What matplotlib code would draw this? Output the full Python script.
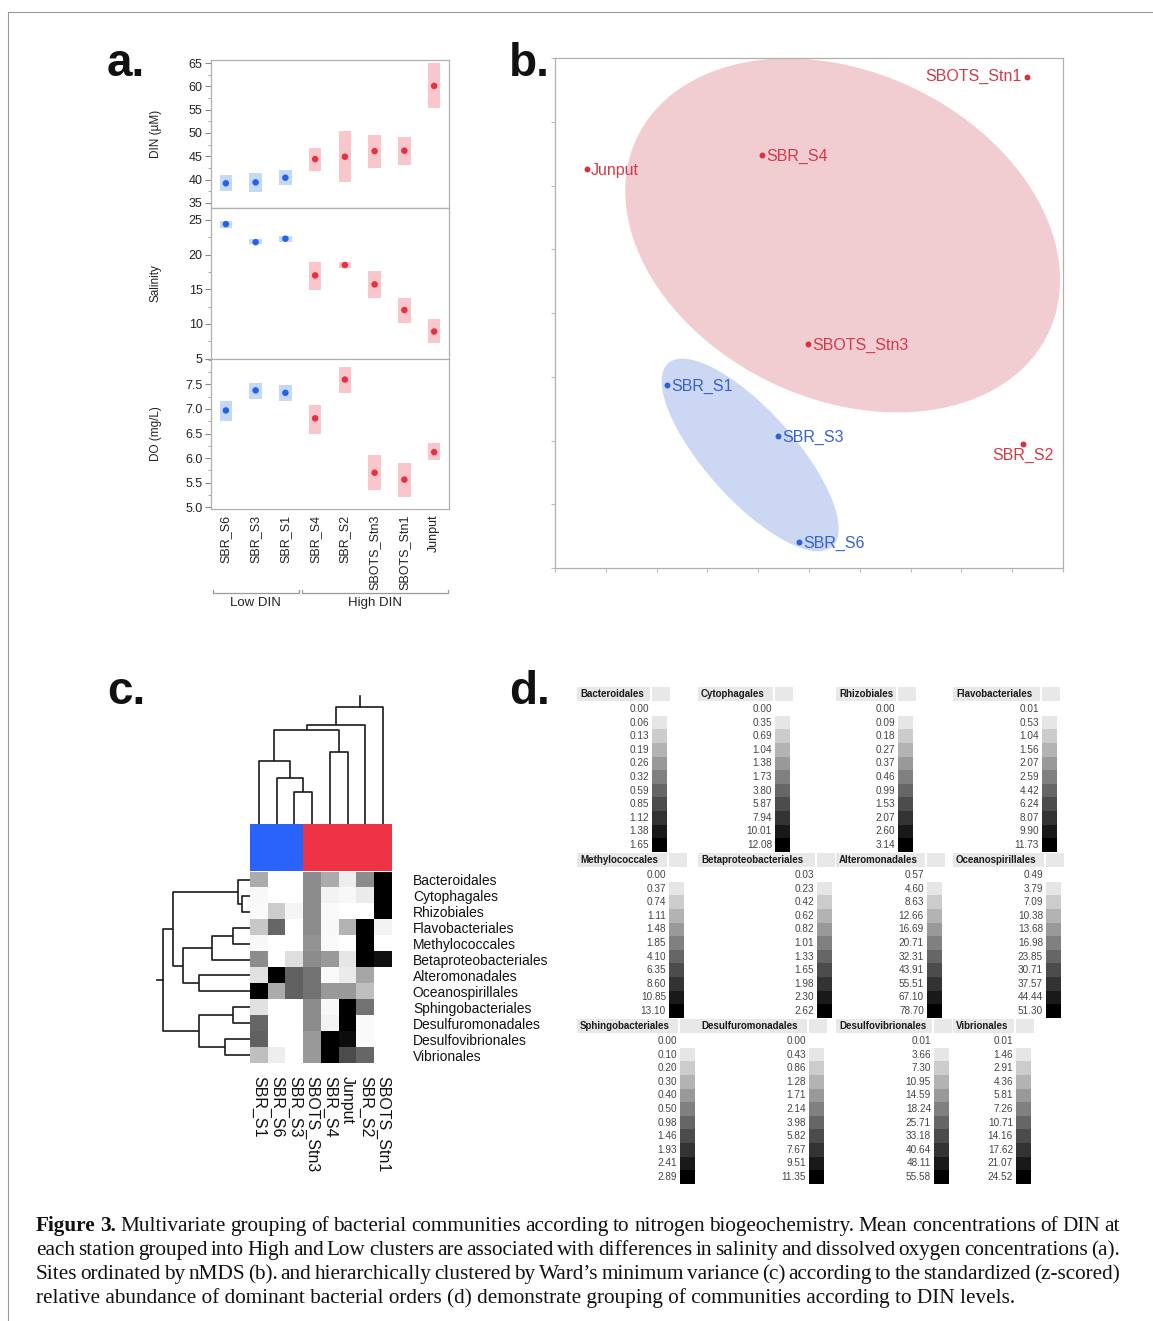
import numpy as np
import matplotlib
matplotlib.use('Agg')
import matplotlib.pyplot as plt
from matplotlib.patches import Rectangle, Ellipse
from matplotlib.colors import ListedColormap, LinearSegmentedColormap
from matplotlib.ticker import MultipleLocator, AutoMinorLocator, NullFormatter, FormatStrFormatter

plt.rcParams['font.family'] = ['Liberation Sans', 'DejaVu Sans']

W, H = 1153, 1321

# ---------------- panel a data ----------------
stations_a = ['SBR_S6', 'SBR_S3', 'SBR_S1', 'SBR_S4', 'SBR_S2', 'SBOTS_Stn3', 'SBOTS_Stn1', 'Junput']
group_a = ['Low', 'Low', 'Low', 'High', 'High', 'High', 'High', 'High']
din_mean = [39.2, 39.4, 40.4, 44.4, 44.9, 46.1, 46.2, 60.1]
din_lo = [37.6, 37.4, 38.8, 41.9, 39.4, 42.5, 43.2, 55.3]
din_hi = [40.9, 41.4, 42.1, 46.8, 50.4, 49.6, 49.1, 64.9]
sal_mean = [24.4, 21.8, 22.3, 17.0, 18.5, 15.7, 12.0, 8.9]
sal_lo = [23.9, 21.5, 21.8, 14.9, 18.0, 13.8, 10.1, 7.2]
sal_hi = [24.9, 22.2, 22.7, 19.0, 19.0, 17.65, 13.7, 10.7]
do_mean = [6.97, 7.38, 7.33, 6.81, 7.60, 5.70, 5.56, 6.12]
do_lo = [6.76, 7.21, 7.17, 6.50, 7.33, 5.35, 5.20, 5.95]
do_hi = [7.16, 7.54, 7.49, 7.09, 7.86, 6.06, 5.90, 6.31]
legend_a = ['High DIN', 'Low DIN']

# ---------------- panel b data ----------------
nmds_sites = ['SBOTS_Stn1', 'Junput', 'SBR_S4', 'SBOTS_Stn3', 'SBR_S1', 'SBR_S3', 'SBR_S6', 'SBR_S2']
nmds_group = ['High', 'High', 'High', 'High', 'Low', 'Low', 'Low', 'High']
nmds1 = [1.030, -1.049, -0.222, -0.005, -0.671, -0.147, -0.047, 1.011]
nmds2 = [1.111, 0.678, 0.744, -0.146, -0.339, -0.579, -1.078, -0.616]
ell_high = [0.159, 0.365, 2.15, 1.54, -25]   # cx, cy, width, height, angle
ell_low = [-0.278, -0.668, 1.16, 0.42, -48]

# ---------------- panel c data ----------------
heat_cols = ['SBR_S1', 'SBR_S6', 'SBR_S3', 'SBOTS_Stn3', 'SBR_S4', 'Junput', 'SBR_S2', 'SBOTS_Stn1']
heat_col_group = [0, 0, 0, 1, 1, 1, 1, 1]
heat_rows = ['Bacteroidales', 'Cytophagales', 'Rhizobiales', 'Flavobacteriales', 'Methylococcales',
             'Betaproteobacteriales', 'Alteromonadales', 'Oceanospirillales', 'Sphingobacteriales',
             'Desulfuromonadales', 'Desulfovibrionales', 'Vibrionales']
heat_vals = [
    [0.33, 0.00, 0.00, 0.45, 0.33, 0.07, 0.45, 1.00],
    [0.03, 0.00, 0.00, 0.45, 0.05, 0.03, 0.08, 1.00],
    [0.02, 0.20, 0.04, 0.45, 0.02, 0.00, 0.00, 1.00],
    [0.22, 0.60, 0.00, 0.45, 0.03, 0.30, 1.00, 0.05],
    [0.03, 0.00, 0.00, 0.42, 0.02, 0.00, 1.00, 0.00],
    [0.45, 0.00, 0.13, 0.45, 0.40, 0.10, 1.00, 0.93],
    [0.12, 1.00, 0.62, 0.55, 0.02, 0.08, 0.35, 0.00],
    [1.00, 0.33, 0.62, 0.55, 0.40, 0.40, 0.25, 0.00],
    [0.12, 0.00, 0.00, 0.45, 0.03, 1.00, 0.55, 0.00],
    [0.60, 0.00, 0.00, 0.45, 0.05, 1.00, 0.02, 0.00],
    [0.62, 0.00, 0.00, 0.40, 1.00, 0.95, 0.02, 0.00],
    [0.25, 0.07, 0.00, 0.40, 1.00, 0.70, 0.60, 0.00],
]
# linkage: (child_a, child_b, height); leaves indexed in display order
col_merges = [(2, 3, 32), (1, 8, 46), (0, 9, 63), (4, 5, 72), (10, 11, 94), (12, 6, 99), (13, 7, 117)]
col_root_stem = 128
row_merges = [(1, 2, 8), (0, 12, 12.3), (3, 4, 17), (14, 5, 38.3), (6, 7, 51), (15, 16, 67),
              (13, 17, 77.3), (8, 9, 17.3), (10, 11, 25), (19, 20, 51), (18, 21, 87)]
row_root_stem = 93

# ---------------- panel d data ----------------
legend_titles = ['Bacteroidales', 'Cytophagales', 'Rhizobiales', 'Flavobacteriales',
                 'Methylococcales', 'Betaproteobacteriales', 'Alteromonadales', 'Oceanospirillales',
                 'Sphingobacteriales', 'Desulfuromonadales', 'Desulfovibrionales', 'Vibrionales']
legend_ticks = [
    ['0.00', '0.06', '0.13', '0.19', '0.26', '0.32', '0.59', '0.85', '1.12', '1.38', '1.65'],
    ['0.00', '0.35', '0.69', '1.04', '1.38', '1.73', '3.80', '5.87', '7.94', '10.01', '12.08'],
    ['0.00', '0.09', '0.18', '0.27', '0.37', '0.46', '0.99', '1.53', '2.07', '2.60', '3.14'],
    ['0.01', '0.53', '1.04', '1.56', '2.07', '2.59', '4.42', '6.24', '8.07', '9.90', '11.73'],
    ['0.00', '0.37', '0.74', '1.11', '1.48', '1.85', '4.10', '6.35', '8.60', '10.85', '13.10'],
    ['0.03', '0.23', '0.42', '0.62', '0.82', '1.01', '1.33', '1.65', '1.98', '2.30', '2.62'],
    ['0.57', '4.60', '8.63', '12.66', '16.69', '20.71', '32.31', '43.91', '55.51', '67.10', '78.70'],
    ['0.49', '3.79', '7.09', '10.38', '13.68', '16.98', '23.85', '30.71', '37.57', '44.44', '51.30'],
    ['0.00', '0.10', '0.20', '0.30', '0.40', '0.50', '0.98', '1.46', '1.93', '2.41', '2.89'],
    ['0.00', '0.43', '0.86', '1.28', '1.71', '2.14', '3.98', '5.82', '7.67', '9.51', '11.35'],
    ['0.01', '3.66', '7.30', '10.95', '14.59', '18.24', '25.71', '33.18', '40.64', '48.11', '55.58'],
    ['0.01', '1.46', '2.91', '4.36', '5.81', '7.26', '10.71', '14.16', '17.62', '21.07', '24.52'],
]

caption_lines = [
    "Figure 3. Multivariate grouping of bacterial communities according to nitrogen biogeochemistry. Mean concentrations of DIN at",
    "each station grouped into High and Low clusters are associated with differences in salinity and dissolved oxygen concentrations (a).",
    "Sites ordinated by nMDS (b). and hierarchically clustered by Ward\u2019s minimum variance (c) according to the standardized (z-scored)",
    "relative abundance of dominant bacterial orders (d) demonstrate grouping of communities according to DIN levels.",
]

# ---------------- styling ----------------
RED = '#e8303f'
BLUE = '#2563e6'
PINK = '#f8c6cb'
LBLUE = '#c6d8f8'
SPINE = '#b0b0b0'

fig = plt.figure(figsize=(W / 100, H / 100), dpi=100)


def add_ax(x0, y0, x1, y1, **kw):
    return fig.add_axes([x0 / W, 1 - y1 / H, (x1 - x0) / W, (y1 - y0) / H], **kw)


ov = add_ax(0, 0, W, H)
ov.set_xlim(0, W)
ov.set_ylim(H, 0)
ov.axis('off')
ov.plot([8, 8, W], [H, 12, 12], color='#9a9a9a', lw=0.8)

# ---------------- panel a ----------------
ax_din = add_ax(211, 60, 449, 208)
ax_sal = add_ax(211, 208, 449, 359)
ax_do = add_ax(211, 359, 449, 509)
xs = np.arange(len(stations_a))
fcol = [BLUE if g == 'Low' else RED for g in group_a]
bcol = [LBLUE if g == 'Low' else PINK for g in group_a]
for ax, m, lo, hi, yl, lab, tks in [
        (ax_din, din_mean, din_lo, din_hi, (33.9, 65.65), 'DIN (\u00b5M)', np.arange(35, 66, 5)),
        (ax_sal, sal_mean, sal_lo, sal_hi, (4.93, 26.73), 'Salinity', np.arange(5, 26, 5)),
        (ax_do, do_mean, do_lo, do_hi, (4.96, 8.02), 'DO (mg/L)', np.arange(5.0, 7.6, 0.5))]:
    ax.bar(xs, np.array(hi) - np.array(lo), bottom=lo, width=0.42, color=bcol, zorder=1)
    ax.scatter(xs, m, s=22, c=fcol, zorder=3, linewidths=0)
    ax.set_xlim(-0.5, 7.5)
    ax.set_ylim(*yl)
    ax.set_yticks(tks)
    ax.yaxis.set_minor_locator(AutoMinorLocator(2))
    ax.tick_params(axis='y', which='major', direction='out', length=4, color='#888888',
                   labelsize=9, labelcolor='#222222', pad=2)
    ax.tick_params(axis='y', which='minor', direction='out', length=2.5, color='#999999')
    ax.set_ylabel(lab, fontsize=8.5, color='#222222')
    ax.yaxis.set_label_coords(-0.206, 0.5)
    for s in ax.spines.values():
        s.set_color(SPINE)
        s.set_linewidth(0.9)
    ax.set_xticks([])
ax_do.yaxis.set_major_formatter(FormatStrFormatter('%.1f'))
ax_do.set_xticks(xs)
ax_do.set_xticklabels(stations_a, rotation=90, fontsize=9, color='#222222')
ax_do.tick_params(axis='x', length=0, pad=4)

# legend of panel a (patch boxes + labels)
for (lab, col), ytop in zip(zip(legend_a, [PINK, LBLUE]), [70.5, 97.3]):
    ov.add_patch(Rectangle((222.7, ytop), 24.6, 19.5, fc=col, ec='none'))
    ov.text(251.5, ytop + 10.5, lab, ha='left', va='center', fontsize=11, color='#222222')

# group brackets
trans = ax_do.get_xaxis_transform()
for gname, idx in [('Low DIN', [0, 2]), ('High DIN', [3, 7])]:
    x0, x1 = idx[0] - 0.43, idx[1] + 0.45
    ybr = -0.56
    ax_do.plot([x0, x0, x1, x1], [ybr + 0.02, ybr, ybr, ybr + 0.02], transform=trans,
               color='#999999', lw=0.9, clip_on=False)
    ax_do.text((x0 + x1) / 2, ybr - 0.03, gname, transform=trans, ha='center', va='top',
               fontsize=9.5, color='#222222')

# ---------------- panel b ----------------
ax_b = add_ax(555, 58, 1063, 568)
ax_b.set_xlim(-1.2, 1.2)
ax_b.set_ylim(-1.2, 1.2)
for ell, col in [(ell_high, '#f1cdd1'), (ell_low, '#ccd7f3')]:
    ax_b.add_patch(Ellipse((ell[0], ell[1]), ell[2], ell[3], angle=ell[4], fc=col, ec='none', zorder=1))
for name, g, x, y in zip(nmds_sites, nmds_group, nmds1, nmds2):
    pc = '#d9303c' if g == 'High' else '#2c5fd8'
    tc = '#d33a47' if g == 'High' else '#3461d6'
    ax_b.scatter([x], [y], s=18, c=pc, zorder=3, linewidths=0)
    if name == 'SBOTS_Stn1':
        ax_b.annotate(name, (x, y), xytext=(-4, 0), textcoords='offset points', ha='right',
                      va='center', fontsize=11.5, color=tc)
    elif name == 'SBR_S2':
        ax_b.annotate(name, (x, y), xytext=(0, -3), textcoords='offset points', ha='center',
                      va='top', fontsize=11.5, color=tc)
    else:
        ax_b.annotate(name, (x, y), xytext=(3, -1), textcoords='offset points', ha='left',
                      va='center', fontsize=11.5, color=tc)
ax_b.xaxis.set_major_locator(MultipleLocator(0.24))
ax_b.yaxis.set_major_locator(MultipleLocator(0.3))
ax_b.xaxis.set_major_formatter(NullFormatter())
ax_b.yaxis.set_major_formatter(NullFormatter())
ax_b.tick_params(length=3, color='#bbbbbb', direction='out')
for s in ax_b.spines.values():
    s.set_color(SPINE)
    s.set_linewidth(0.9)

# ---------------- panel c ----------------
n_c, n_r = len(heat_cols), len(heat_rows)
ax_h = add_ax(250, 872, 392, 1063)
gray_cmap = LinearSegmentedColormap.from_list('wk', ['#ffffff', '#000000'])
ax_h.imshow(np.array(heat_vals), cmap=gray_cmap, vmin=0, vmax=1, aspect='auto',
            extent=(0, n_c, n_r, 0), interpolation='nearest')
ax_h.set_xlim(0, n_c)
ax_h.set_ylim(n_r, 0)
ax_h.set_xticks(np.arange(n_c) + 0.5)
ax_h.set_xticklabels(heat_cols, rotation=270, fontsize=11.5, color='#111111')
ax_h.tick_params(axis='x', length=0, pad=9)
ax_h.set_yticks(np.arange(n_r) + 0.5)
ax_h.set_yticklabels(heat_rows, fontsize=10, color='#111111')
ax_h.yaxis.tick_right()
ax_h.tick_params(axis='y', length=0, pad=15)
for s in ax_h.spines.values():
    s.set_visible(False)

ax_cb = add_ax(250, 824, 392, 871)
ax_cb.imshow([heat_col_group], cmap=ListedColormap(['#2a63fb', '#ee3345']), vmin=0, vmax=1,
             aspect='auto', extent=(0, n_c, 1, 0), interpolation='nearest')
ax_cb.axis('off')


def draw_dendro(ax, n, merges, stem, orient):
    pos = {i: i + 0.5 for i in range(n)}
    hgt = {i: 0.0 for i in range(n)}
    nid = n
    for a, b, h in merges:
        pa, pb = pos[a], pos[b]
        xs_ = [pa, pa, pb, pb]
        ys_ = [hgt[a], h, h, hgt[b]]
        if orient == 'top':
            ax.plot(xs_, ys_, color='#1a1a1a', lw=1.2, solid_capstyle='butt')
        else:
            ax.plot(ys_, xs_, color='#1a1a1a', lw=1.2, solid_capstyle='butt')
        pos[nid] = (pa + pb) / 2
        hgt[nid] = h
        nid += 1
    root = nid - 1
    if orient == 'top':
        ax.plot([pos[root], pos[root]], [hgt[root], stem], color='#1a1a1a', lw=1.2)
    else:
        ax.plot([hgt[root], stem], [pos[root], pos[root]], color='#1a1a1a', lw=1.2)


ax_td = add_ax(250, 690, 392, 824)
ax_td.set_xlim(0, n_c)
ax_td.set_ylim(0, 134)
draw_dendro(ax_td, n_c, col_merges, col_root_stem, 'top')
ax_td.axis('off')

ax_rd = add_ax(150, 872, 250, 1063)
ax_rd.set_xlim(100, 0)
ax_rd.set_ylim(n_r, 0)
draw_dendro(ax_rd, n_r, row_merges, row_root_stem, 'left')
ax_rd.axis('off')

# ---------------- panel d ----------------
leg_rows_y = [694, 860, 1026]
leg_cols_x = [577, 698, 836, 953]
swatch_x = [[652, 775, 898, 1042], [669, 817, 927, 1046], [680, 809, 934, 1016]]
step = 13.6
grays = np.linspace(0.9, 0.0, 10)
for k, (title, ticks) in enumerate(zip(legend_titles, legend_ticks)):
    r, c = divmod(k, 4)
    hy = leg_rows_y[r]
    hx = leg_cols_x[c]
    sx = swatch_x[r][c]
    ov.add_patch(Rectangle((hx, hy - 7), sx - 2 - hx, 14, fc='#e8e8e8', ec='none'))
    ov.add_patch(Rectangle((sx, hy - 7), 18, 14, fc='#e8e8e8', ec='none'))
    ov.text(hx + 3, hy, title, ha='left', va='center', fontsize=7, fontweight='bold', color='#1a1a1a')
    for j, t in enumerate(ticks):
        y = hy + 15 + j * step
        ov.text(sx - 3, y, t, ha='right', va='center', fontsize=7.2, color='#444444')
        if j >= 1:
            ov.add_patch(Rectangle((sx, y - step / 2), 15, step, fc=str(grays[j - 1]), ec='none'))

# ---------------- panel labels ----------------
for lab, x, y in [('a.', 107, 76), ('b.', 509, 76), ('c.', 107, 704), ('d.', 509, 704)]:
    ov.text(x, y, lab, fontsize=33, fontweight='bold', ha='left', va='baseline', color='#111111')

# ---------------- caption ----------------
renderer = fig.canvas.get_renderer()
cap_font = ['Liberation Serif', 'DejaVu Serif']


def text_w(s, fs, bold=False):
    t = ov.text(0, 0, s, fontsize=fs, family=cap_font, fontweight='bold' if bold else 'normal')
    w = t.get_window_extent(renderer).width
    t.remove()
    return w


x_left, x_right = 36, 1120
fs_cap = 10 * 979 / text_w(caption_lines[3], 10)
for li, line in enumerate(caption_lines):
    yb = 1231 + 24 * li
    words = line.split(' ')
    bold_flags = [li == 0 and wi < 2 for wi in range(len(words))]
    if li < 3:
        widths = [text_w(w_, fs_cap, b) for w_, b in zip(words, bold_flags)]
        gap = (x_right - x_left - sum(widths)) / (len(words) - 1)
        x = x_left
        for w_, wd, b in zip(words, widths, bold_flags):
            ov.text(x, yb, w_, fontsize=fs_cap, family=cap_font,
                    fontweight='bold' if b else 'normal',
                    ha='left', va='baseline', color='#111111')
            x += wd + gap
    else:
        ov.text(x_left, yb, line, fontsize=fs_cap, family=cap_font, ha='left', va='baseline',
                color='#111111')

fig.savefig('out.png', dpi=100)
